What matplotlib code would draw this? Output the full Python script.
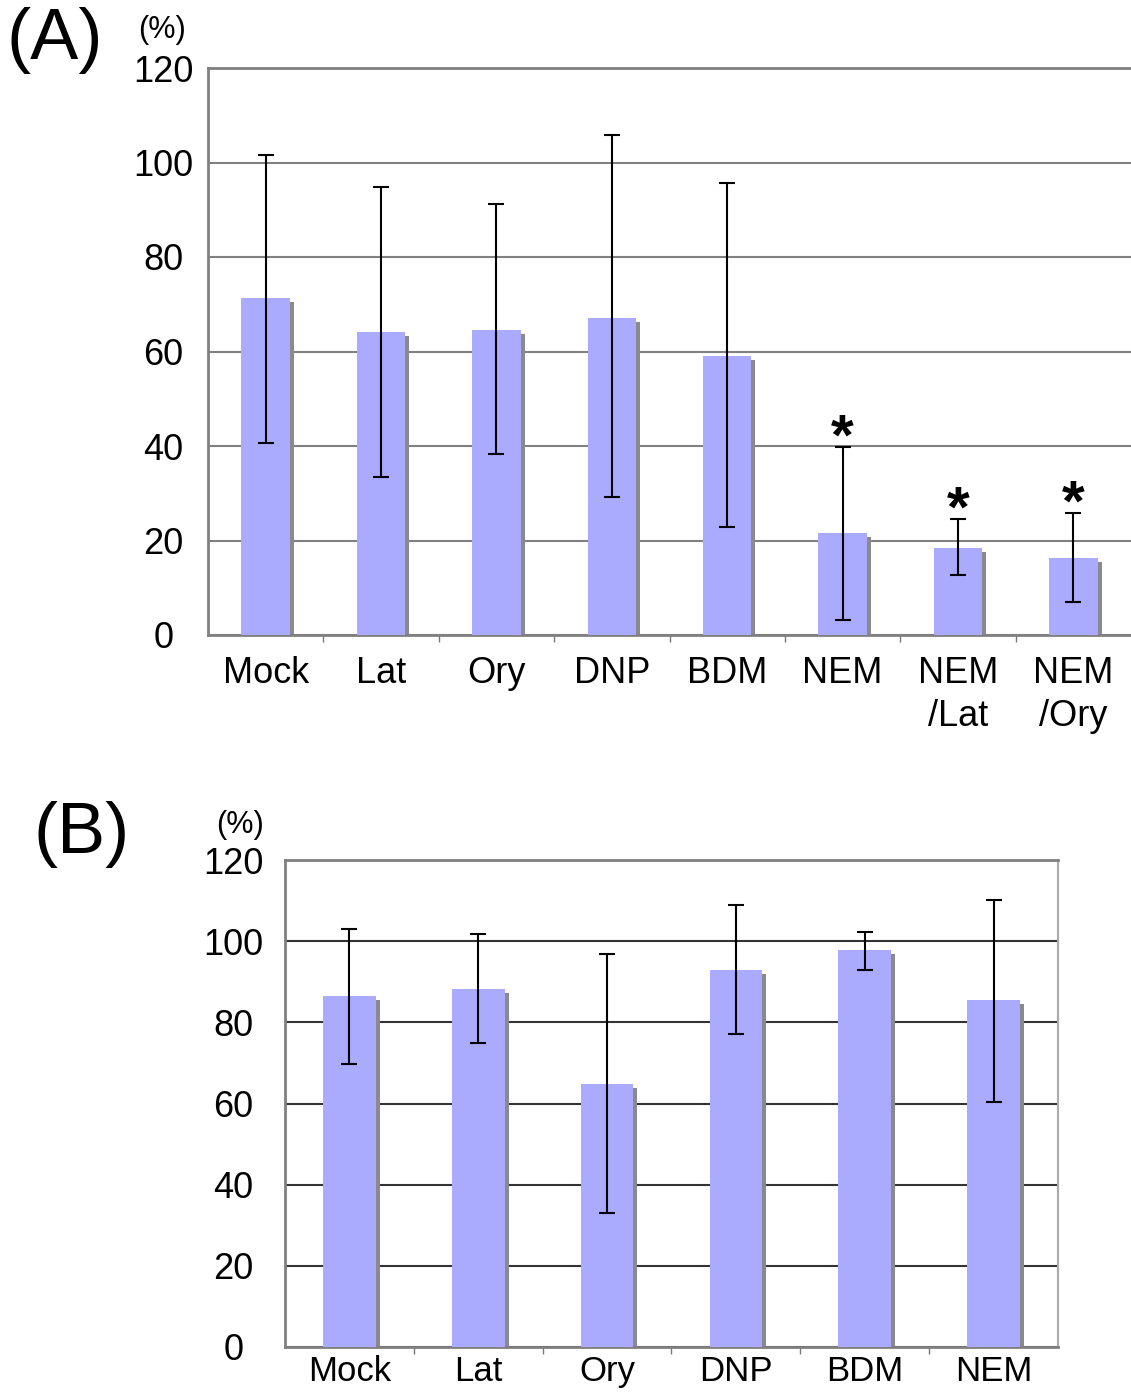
import matplotlib
matplotlib.use("Agg")
import matplotlib.pyplot as plt
import numpy as np
from matplotlib.transforms import ScaledTranslation

plt.rcParams['font.family'] = ['Liberation Sans', 'DejaVu Sans']

# ---------------- data ----------------
cats_a = ["Mock", "Lat", "Ory", "DNP", "BDM", "NEM", "NEM\n/Lat", "NEM\n/Ory"]
vals_a = [71.3, 64.1, 64.6, 67.1, 59.0, 21.6, 18.4, 16.3]
err_hi_a = [101.6, 94.8, 91.2, 105.8, 95.7, 39.8, 24.6, 25.8]
err_lo_a = [40.6, 33.4, 38.3, 29.2, 22.9, 3.2, 12.7, 7.0]
signif_a = [False, False, False, False, False, True, True, True]

cats_b = ["Mock", "Lat", "Ory", "DNP", "BDM", "NEM"]
vals_b = [86.5, 88.2, 64.8, 92.9, 97.8, 85.5]
err_hi_b = [103.0, 101.8, 96.8, 108.9, 102.3, 110.2]
err_lo_b = [69.7, 74.9, 33.0, 77.1, 92.9, 60.4]

yticks = [0, 20, 40, 60, 80, 100, 120]

BAR = "#aaaaff"
SHADOW = "#8a8a8a"

fig = plt.figure(figsize=(11.31, 13.97), dpi=100)


def panel(ax, cats, vals, hi, lo, width, grid_color, ylab_pad, xlab_pad, xfs, cap, spine_right):
    x = np.arange(len(cats))
    vals = np.array(vals)
    hi = np.array(hi)
    lo = np.array(lo)
    shadow_tr = ax.transData + ScaledTranslation(4 / 100, -4 / 100, fig.dpi_scale_trans)
    ax.bar(x, vals, width, color=SHADOW, transform=shadow_tr, zorder=2, linewidth=0)
    ax.bar(x, vals, width, color=BAR, zorder=3, linewidth=0)
    ax.errorbar(x, vals, yerr=[vals - lo, hi - vals], fmt='none', ecolor='black',
                elinewidth=1.5, capsize=cap, capthick=1.5, zorder=4)
    ax.set_xlim(-0.5, len(cats) - 0.5)
    ax.set_ylim(0, 120)
    ax.set_yticks(yticks)
    ax.set_yticklabels([str(t) for t in yticks], fontsize=26)
    for lab in ax.get_yticklabels():
        lab.set_ha('center')
    ax.tick_params(axis='y', length=0, pad=ylab_pad)
    ax.set_xticks(x)
    ax.set_xticklabels(cats, fontsize=xfs, linespacing=1.3)
    ax.tick_params(axis='x', which='major', length=0, pad=xlab_pad)
    ax.set_xticks(np.arange(len(cats) - 1) + 0.5, minor=True)
    ax.tick_params(axis='x', which='minor', length=5, width=1, color='#777777', direction='out')
    ax.set_axisbelow(True)
    ax.yaxis.grid(True, color=grid_color, linewidth=1.5)
    for s in ['left', 'top', 'bottom']:
        ax.spines[s].set_color('#808080')
        ax.spines[s].set_linewidth(2)
    if spine_right:
        ax.spines['right'].set_color('#aaaaaa')
        ax.spines['right'].set_linewidth(1.5)
    else:
        ax.spines['right'].set_visible(False)
    return x, hi


# Panel A
axA = fig.add_axes([208 / 1131, 1 - 635 / 1397, (1131 - 208) / 1131, (635 - 68) / 1397])
xa, hia = panel(axA, cats_a, vals_a, err_hi_a, err_lo_a, 0.42, '#808080', 32, 15, 26, 6, False)
for xi, h, s in zip(xa, hia, signif_a):
    if s:
        axA.annotate("*", (xi, h), xytext=(0, -14), textcoords='offset points',
                     ha='center', va='bottom', fontsize=42, fontweight='bold')

# Panel B
axB = fig.add_axes([285 / 1131, 1 - 1347 / 1397, (1058 - 285) / 1131, (1347 - 860) / 1397])
panel(axB, cats_b, vals_b, err_hi_b, err_lo_b, 0.41, '#333333', 37, 6, 25, 6, True)

fig.text(55 / 1131, 1 - 40 / 1397, "(A)", fontsize=52, ha='center', va='center')
fig.text(162 / 1131, 1 - 30 / 1397, "(%)", fontsize=22, ha='center', va='center')
fig.text(82 / 1131, 1 - 835 / 1397, "(B)", fontsize=52, ha='center', va='center')
fig.text(240 / 1131, 1 - 825 / 1397, "(%)", fontsize=22, ha='center', va='center')

fig.savefig("out.png", dpi=100)
